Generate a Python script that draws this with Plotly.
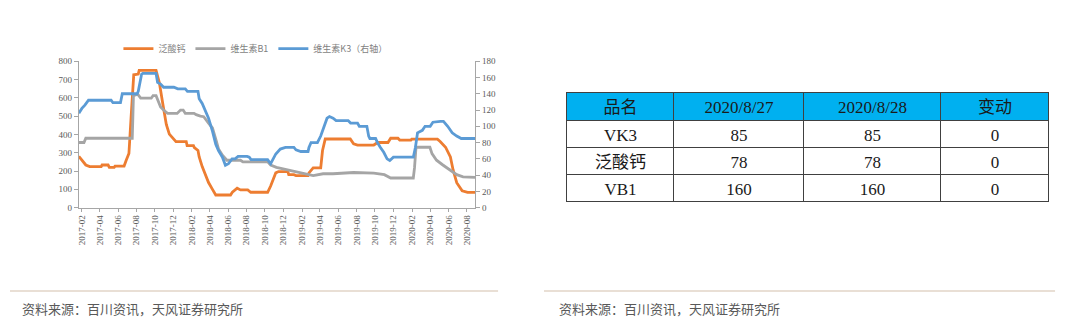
import plotly.graph_objects as go

# ---------------- data ----------------
ca_dates = ["2017-01-22","2017-02-01","2017-02-14","2017-02-27","2017-04-06","2017-04-09","2017-04-29","2017-05-03",
            "2017-05-19","2017-05-22","2017-06-21","2017-06-28","2017-07-07","2017-07-14","2017-07-23","2017-08-07",
            "2017-08-10","2017-10-05","2017-10-16","2017-10-28","2017-11-08","2017-11-18","2017-12-01","2017-12-10",
            "2018-01-13","2018-01-16","2018-02-06","2018-02-09","2018-02-21","2018-02-25","2018-03-07","2018-03-19",
            "2018-03-28","2018-04-10","2018-04-21","2018-06-09","2018-06-15","2018-07-01","2018-07-12","2018-08-05",
            "2018-08-15","2018-10-10","2018-10-20","2018-11-06","2018-11-15","2018-12-16","2018-12-19","2019-01-05",
            "2019-01-12","2019-02-21","2019-02-24","2019-03-10","2019-04-04","2019-04-10","2019-04-19","2019-07-11",
            "2019-07-22","2019-08-04","2019-09-27","2019-10-10","2019-11-13","2019-11-22","2019-12-16","2019-12-22",
            "2020-01-28","2020-01-31","2020-04-25","2020-05-04","2020-05-22","2020-06-07","2020-06-16","2020-06-28",
            "2020-07-16","2020-08-03","2020-08-28"]
ca_values = [280,259,233,224,224,233,233,220,
             220,227,227,259,296,488,726,730,
             750,750,682,561,455,402,375,361,
             361,339,339,328,312,277,224,171,
             137,100,69,69,84,106,97,97,
             84,84,118,190,197,197,180,180,
             175,175,190,217,217,312,375,375,
             349,342,342,356,356,379,379,369,
             369,374,374,361,330,277,206,136,
             92,83,83]

b1_dates = ["2017-01-22","2017-02-08","2017-02-14","2017-07-18","2017-07-20","2017-07-22","2017-08-05","2017-08-15",
            "2017-09-19","2017-09-25","2017-10-05","2017-10-10","2017-10-20","2017-10-30","2017-11-12","2017-12-14",
            "2017-12-25","2018-01-03","2018-01-10","2018-02-08","2018-02-15","2018-03-01","2018-03-12","2018-03-28",
            "2018-04-10","2018-04-21","2018-04-30","2018-05-13","2018-05-28","2018-07-12","2018-07-20","2018-10-10",
            "2018-10-20","2018-11-08","2018-12-14","2019-01-18","2019-02-20","2019-03-10","2019-04-12","2019-05-15",
            "2019-07-22","2019-08-25","2019-09-27","2019-11-01","2019-11-22","2020-02-05","2020-02-09","2020-02-14",
            "2020-03-31","2020-04-07","2020-04-22","2020-05-13","2020-06-07","2020-06-28","2020-07-19","2020-08-28"]
b1_values = [356,356,379,379,488,612,620,598,
             598,612,612,594,550,533,515,515,
             533,533,515,515,508,500,497,462,
             435,374,321,286,259,259,250,250,
             233,220,206,192,180,175,185,185,
             192,192,189,180,162,162,217,330,
             330,295,259,233,206,180,168,165]

k3_dates = ["2017-01-22","2017-02-01","2017-02-11","2017-02-23","2017-05-09","2017-05-15","2017-06-09","2017-06-15",
            "2017-08-03","2017-08-07","2017-08-18","2017-08-22","2017-10-05","2017-10-10","2017-10-20","2017-10-30",
            "2017-12-03","2017-12-16","2018-01-10","2018-01-17","2018-02-21","2018-02-25","2018-03-07","2018-03-19",
            "2018-03-28","2018-04-10","2018-04-21","2018-04-30","2018-05-13","2018-05-23","2018-06-02","2018-06-14",
            "2018-06-24","2018-07-04","2018-08-03","2018-08-10","2018-08-16","2018-10-10","2018-10-20","2018-11-06",
            "2018-11-21","2018-12-08","2019-01-05","2019-01-12","2019-01-28","2019-02-21","2019-02-24","2019-03-03",
            "2019-03-24","2019-04-04","2019-04-13","2019-04-25","2019-05-03","2019-05-15","2019-05-25","2019-07-04",
            "2019-07-12","2019-08-04","2019-08-10","2019-09-04","2019-09-10","2019-09-14","2019-10-03","2019-10-09",
            "2019-10-19","2019-10-30","2019-11-10","2019-11-19","2019-12-01","2020-02-05","2020-02-12","2020-02-19",
            "2020-03-06","2020-03-15","2020-04-01","2020-04-10","2020-05-05","2020-05-15","2020-05-29","2020-06-13",
            "2020-06-28","2020-07-13","2020-08-28"]
k3_values = [116,122,126,132,132,129,129,140,
             140,143,164,165,165,154,152,148,
             148,146,146,143,143,134,128,118,
             110,94,78,70,62,52,54,60,
             60,63,63,62,59,59,54,66,
             72,74,74,71,69,69,74,80,
             80,88,98,110,112,110,107,107,
             104,104,100,100,88,85,85,80,
             74,68,60,58,62,62,74,92,
             95,100,100,105,106,106,100,92,
             88,85,85]

x_tick_labels = ["2017-02","2017-04","2017-06","2017-08","2017-10","2017-12",
                 "2018-02","2018-04","2018-06","2018-08","2018-10","2018-12",
                 "2019-02","2019-04","2019-06","2019-08","2019-10","2019-12",
                 "2020-02","2020-04","2020-06","2020-08"]

series_names = ["泛酸钙", "维生素B1", "维生素K3（右轴）"]
series_colors = ["#ED7D31", "#A5A5A5", "#5B9BD5"]

table_header = ["品名", "2020/8/27", "2020/8/28", "变动"]
table_products = ["VK3", "泛酸钙", "VB1"]
table_day1 = [85, 78, 160]
table_day2 = [85, 78, 160]
table_change = [0, 0, 0]

source_text = "资料来源：百川资讯，天风证券研究所"

# ---------------- figure ----------------
W, H = 1080, 328
fig = go.Figure()

fig.add_trace(go.Scatter(x=ca_dates, y=ca_values, name=series_names[0], mode="lines",
                         line=dict(color=series_colors[0], width=2.8), yaxis="y"))
fig.add_trace(go.Scatter(x=b1_dates, y=b1_values, name=series_names[1], mode="lines",
                         line=dict(color=series_colors[1], width=2.8), yaxis="y"))
fig.add_trace(go.Scatter(x=k3_dates, y=k3_values, name=series_names[2], mode="lines",
                         line=dict(color=series_colors[2], width=2.8), yaxis="y2"))

cell_font = dict(family="Liberation Serif, Noto Sans CJK SC, serif", size=17, color="#1a1a1a")
fig.add_trace(go.Table(
    domain=dict(x=[566 / W, 1049 / W], y=[1 - 206 / H, 1 - 90 / H]),
    columnwidth=[107, 130, 137, 108],
    header=dict(values=table_header, fill_color="#00B0F0", line=dict(color="#404040", width=1),
                font=cell_font, align="center", height=28),
    cells=dict(values=[table_products, table_day1, table_day2, table_change],
               fill_color="white", line=dict(color="#404040", width=1),
               font=cell_font, align="center", height=27),
))

axis_color = "#A6A6A6"
tick_font = dict(family="Liberation Serif, serif", size=9, color="#595959")

fig.update_layout(
    width=W, height=H,
    margin=dict(l=0, r=0, t=0, b=0),
    paper_bgcolor="white", plot_bgcolor="white",
    showlegend=True,
    legend=dict(orientation="h", x=0.108, y=1 - 30 / H, xanchor="left", yanchor="top",
                font=dict(family="Noto Sans CJK SC", size=9, color="#7F7F7F"),
                itemwidth=30, tracegroupgap=0, bgcolor="rgba(0,0,0,0)"),
    xaxis=dict(domain=[77 / W, 474 / W], type="date",
               range=["2017-01-22", "2020-08-28"],
               tickvals=[t + "-01" for t in x_tick_labels], ticktext=x_tick_labels,
               tickangle=-90, tickfont=tick_font,
               showline=True, linecolor=axis_color, linewidth=1,
               ticks="outside", ticklen=3, tickcolor=axis_color,
               showgrid=False, zeroline=False, anchor="y"),
    yaxis=dict(domain=[1 - 209 / H, 1 - 58 / H], range=[0, 800], dtick=100,
               tickfont=tick_font, showline=True, linecolor=axis_color, linewidth=1,
               ticks="outside", ticklen=4, tickcolor=axis_color,
               showgrid=False, zeroline=False, anchor="x"),
    yaxis2=dict(domain=[1 - 209 / H, 1 - 58 / H], range=[0, 180], dtick=20,
                overlaying="y", side="right", anchor="x",
                tickfont=tick_font, showline=True, linecolor=axis_color, linewidth=1,
                ticks="outside", ticklen=4, tickcolor=axis_color,
                showgrid=False, zeroline=False),
)

# footer separators and source notes
for x0, x1 in [(8, 497), (543, 1055)]:
    fig.add_shape(type="line", xref="paper", yref="paper",
                  x0=x0 / W, x1=x1 / W, y0=1 - 295 / H, y1=1 - 295 / H,
                  line=dict(color="#E9DFD5", width=2))
for xpos in [18, 556]:
    fig.add_annotation(text=source_text, xref="paper", yref="paper",
                       x=xpos / W, y=1 - 313 / H, xanchor="left", yanchor="middle",
                       showarrow=False,
                       font=dict(family="Noto Sans CJK SC", size=13, color="#595959"))

fig.write_html("out.html")
